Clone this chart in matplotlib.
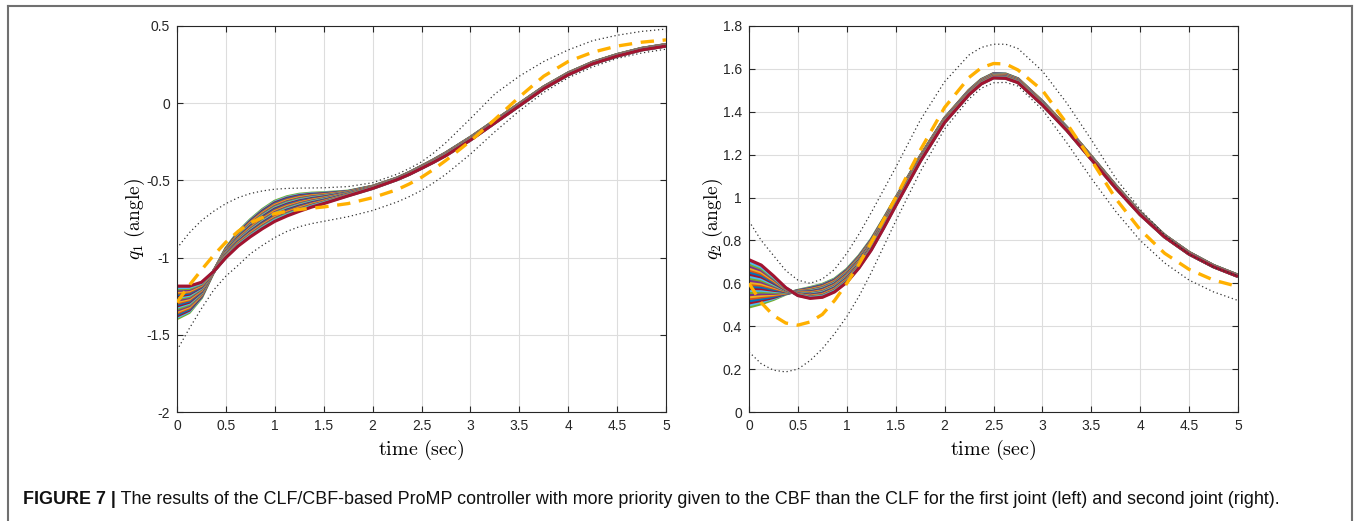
import matplotlib
matplotlib.use("Agg")
import matplotlib.pyplot as plt
from matplotlib.lines import Line2D
import numpy as np

# ---- sample times (s) ----
t = [0.0, 0.125, 0.25, 0.375, 0.5, 0.625, 0.75, 0.875, 1.0, 1.125, 1.25, 1.375, 1.5,
     1.75, 2.0, 2.25, 2.375, 2.5, 2.625, 2.75, 3.0, 3.25, 3.5,
     3.75, 4.0, 4.25, 4.5, 4.75, 5.0]

# ---- joint 1 ----
q1_mean = [-1.29, -1.27, -1.21, -1.09, -0.97, -0.88, -0.81, -0.75, -0.70, -0.668, -0.645, -0.628, -0.615,
           -0.585, -0.545, -0.49, -0.455, -0.415, -0.374, -0.33, -0.23, -0.12, -0.01,
           0.10, 0.19, 0.26, 0.31, 0.35, 0.375]
q1_spread = [0.105, 0.085, 0.05, 0.0, -0.03, -0.045, -0.055, -0.062, -0.065, -0.062, -0.055, -0.045, -0.035,
             -0.015, -0.007, -0.005, -0.006, -0.007, -0.008, -0.009, -0.009, -0.008, -0.007,
             -0.006, -0.006, -0.005, -0.005, -0.005, -0.005]
q1_ref = [-1.29, -1.18, -1.08, -0.985, -0.90, -0.83, -0.775, -0.74, -0.715, -0.70, -0.688, -0.68, -0.672,
          -0.65, -0.612, -0.56, -0.523, -0.48, -0.428, -0.37, -0.245, -0.105, 0.04,
          0.175, 0.27, 0.33, 0.37, 0.395, 0.41]
q1_upper = [-0.94, -0.84, -0.76, -0.70, -0.65, -0.612, -0.585, -0.568, -0.557, -0.552, -0.55, -0.549, -0.548,
            -0.54, -0.515, -0.46, -0.423, -0.38, -0.322, -0.255, -0.10, 0.06, 0.175,
            0.27, 0.345, 0.405, 0.44, 0.465, 0.48]
q1_lower = [-1.60, -1.46, -1.33, -1.21, -1.12, -1.05, -0.975, -0.92, -0.87, -0.83, -0.80, -0.78, -0.765,
            -0.735, -0.695, -0.64, -0.605, -0.565, -0.515, -0.46, -0.33, -0.185, -0.05,
            0.07, 0.165, 0.235, 0.29, 0.325, 0.35]

# ---- joint 2 ----
q2_mean = [0.60, 0.595, 0.58, 0.565, 0.555, 0.555, 0.565, 0.59, 0.635, 0.70, 0.78, 0.878, 0.98,
           1.18, 1.36, 1.49, 1.54, 1.568, 1.566, 1.545, 1.44, 1.32, 1.185,
           1.05, 0.925, 0.82, 0.74, 0.68, 0.635]
q2_spread = [0.11, 0.09, 0.055, 0.015, -0.012, -0.025, -0.03, -0.03, -0.03, -0.028, -0.025, -0.022, -0.018,
             -0.012, -0.01, -0.01, -0.01, -0.01, -0.01, -0.009, -0.008, -0.007, -0.007,
             -0.006, -0.005, -0.004, -0.004, -0.003, -0.003]
q2_ref = [0.60, 0.51, 0.45, 0.415, 0.405, 0.42, 0.455, 0.52, 0.60, 0.69, 0.79, 0.895, 1.00,
          1.22, 1.42, 1.56, 1.605, 1.625, 1.623, 1.595, 1.50, 1.345, 1.175,
          0.995, 0.85, 0.74, 0.665, 0.615, 0.585]
q2_upper = [0.89, 0.80, 0.73, 0.66, 0.615, 0.60, 0.62, 0.665, 0.74, 0.83, 0.93, 1.035, 1.14,
            1.36, 1.54, 1.665, 1.70, 1.715, 1.715, 1.695, 1.59, 1.44, 1.27,
            1.09, 0.945, 0.825, 0.735, 0.675, 0.635]
q2_lower = [0.28, 0.225, 0.195, 0.187, 0.20, 0.24, 0.295, 0.365, 0.445, 0.54, 0.65, 0.77, 0.89,
            1.12, 1.32, 1.46, 1.51, 1.535, 1.537, 1.52, 1.41, 1.255, 1.09,
            0.935, 0.80, 0.695, 0.615, 0.56, 0.52]

# relative position of each executed trajectory inside the bundle (in drawing order)
traj_weights = [-1.0, -0.91, -0.83, -0.74, -0.65, -0.57, -0.48, -0.39, -0.30, -0.22, -0.13,
                -0.04, 0.04, 0.13, 0.22, 0.30, 0.39, 0.48, 0.57, 0.65, 0.74, 0.83, 0.91, 1.0]

x_ticks = [0, 0.5, 1, 1.5, 2, 2.5, 3, 3.5, 4, 4.5, 5]
x_ticklabels = ["0", "0.5", "1", "1.5", "2", "2.5", "3", "3.5", "4", "4.5", "5"]
y1_ticks = [-2, -1.5, -1, -0.5, 0, 0.5]
y1_ticklabels = ["-2", "-1.5", "-1", "-0.5", "0", "0.5"]
y2_ticks = [0, 0.2, 0.4, 0.6, 0.8, 1, 1.2, 1.4, 1.6, 1.8]
y2_ticklabels = ["0", "0.2", "0.4", "0.6", "0.8", "1", "1.2", "1.4", "1.6", "1.8"]

caption_bold = "FIGURE 7 |"
caption_text = (" The results of the CLF/CBF-based ProMP controller with more priority given "
                "to the CBF than the CLF for the first joint (left) and second joint (right).")

matlab_colors = ["#0072BD", "#D95319", "#EDB120", "#7E2F8E",
                 "#77AC30", "#4DBEEE", "#A2142F"]

plt.rcParams["font.family"] = ["Liberation Sans", "DejaVu Sans"]
plt.rcParams["mathtext.fontset"] = "cm"

W, H = 1354, 521
fig = plt.figure(figsize=(W / 100, H / 100), dpi=100)


def px_axes(x0, x1, y0, y1):
    return fig.add_axes([x0 / W, 1 - y1 / H, (x1 - x0) / W, (y1 - y0) / H])


def draw_panel(ax, mean, spread, ref, upper, lower, ylim, yticks, yticklabels,
               ylabel, ylabel_x):
    tt = np.asarray(t)
    m = np.asarray(mean)
    s = np.asarray(spread)
    for j, w in enumerate(traj_weights):
        ax.plot(tt, m + w * s, color=matlab_colors[(j + 4) % 7], lw=2.3,
                solid_capstyle="butt", solid_joinstyle="round", zorder=2)
    ax.plot(tt, upper, color="#333333", lw=0.9, ls=(0, (1, 2.2)), zorder=3)
    ax.plot(tt, lower, color="#333333", lw=0.9, ls=(0, (1, 2.2)), zorder=3)
    ax.plot(tt, ref, color="#FFB000", lw=2.4, ls=(0, (4, 2.6)), zorder=4)
    ax.set_xlim(0, 5)
    ax.set_ylim(*ylim)
    ax.set_xticks(x_ticks)
    ax.set_xticklabels(x_ticklabels)
    ax.set_yticks(yticks)
    ax.set_yticklabels(yticklabels)
    ax.grid(True, color="#DDDDDD", lw=0.8)
    ax.set_axisbelow(True)
    ax.tick_params(direction="in", length=4, width=0.8, top=True, right=True,
                   labelsize=10, colors="#262626", pad=5)
    for sp in ax.spines.values():
        sp.set_color("#262626")
        sp.set_linewidth(0.8)
    ax.set_xlabel(r"$\mathrm{time\ (sec)}$", fontsize=14.5)
    ax.xaxis.set_label_coords(0.5, -0.068)
    ax.set_ylabel(ylabel, fontsize=14)
    ax.yaxis.set_label_coords(ylabel_x, 0.5)


ax1 = px_axes(177, 666, 26, 412)
draw_panel(ax1, q1_mean, q1_spread, q1_ref, q1_upper, q1_lower, (-2, 0.5),
           y1_ticks, y1_ticklabels, r"$q_1\ \mathrm{(angle)}$", -0.062)
ax2 = px_axes(749, 1238, 26, 412)
draw_panel(ax2, q2_mean, q2_spread, q2_ref, q2_upper, q2_lower, (0, 1.8),
           y2_ticks, y2_ticklabels, r"$q_2\ \mathrm{(angle)}$", -0.049)

# frame around the figure panel
frame_kw = dict(color="#707070", lw=1.5, transform=fig.transFigure)
fig.add_artist(Line2D([8 / W, 1352 / W], [1 - 6 / H, 1 - 6 / H], **frame_kw))
fig.add_artist(Line2D([8 / W, 8 / W], [1 - 6 / H, 0], **frame_kw))
fig.add_artist(Line2D([1352 / W, 1352 / W], [1 - 6 / H, 0], **frame_kw))

# caption
cy = 1 - 500 / H
tb = fig.text(23 / W, cy, caption_bold, fontsize=12.9, fontweight="bold",
              va="center", ha="left", color="#111111")
fig.canvas.draw()
bb = tb.get_window_extent()
fig.text(bb.x1 / W, cy, caption_text, fontsize=12.9, va="center", ha="left",
         color="#111111")

fig.savefig("out.png", dpi=100)
